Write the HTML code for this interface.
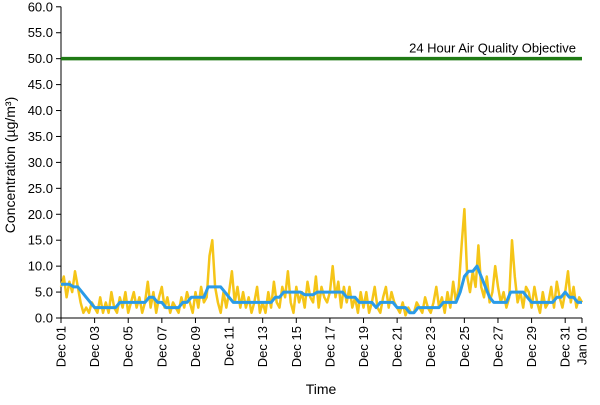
<!DOCTYPE html>
<html><head><meta charset="utf-8"><style>
body{margin:0;background:#fff;font-family:"Liberation Sans",Arial,sans-serif}
svg text{font-family:"Liberation Sans",Arial,sans-serif}
</style></head><body>
<svg id="chart" width="600" height="400" viewBox="0 0 600 400" xmlns="http://www.w3.org/2000/svg">
<g id="yt"></g>
<g id="xt"></g>
<g id="series"></g>
<text transform="translate(15,165) rotate(-90)" text-anchor="middle" font-size="14" fill="#000">Concentration (µg/m³)</text>
<text x="321" y="394" text-anchor="middle" font-size="14" fill="#000">Time</text>
</svg>
<script>
const yTicks=[0,5,10,15,20,25,30,35,40,45,50,55,60];
const xLabels=["Dec 01","Dec 03","Dec 05","Dec 07","Dec 09","Dec 11","Dec 13","Dec 15","Dec 17","Dec 19","Dec 21","Dec 23","Dec 25","Dec 27","Dec 29","Dec 31","Jan 01"];
const xLabelDays=[0,2,4,6,8,10,12,14,16,18,20,22,24,26,28,30,31];
const objective=50;
const objectiveLabel="24 Hour Air Quality Objective";
const hourlyVals=[6,8,4,7,5,9, 6,3,1,2,1,3, 2,1,4,1,3,1, 5,2,1,4,2,5, 1,3,5,2,4,1, 3,7,2,5,1,4, 6,2,4,1,3,2, 1,4,2,5,3,1, 5,2,6,3,4,12, 15,6,3,1,5,2, 5,9,3,6,2,5, 2,4,1,3,6,1, 3,1,5,2,7,3, 2,6,4,9,3,1, 6,3,5,2,7,4, 3,8,2,6,4,3, 5,10,4,7,2,6, 3,6,2,4,1,5, 2,5,1,3,6,2, 1,4,6,2,5,3, 2,1,3,0.5,2,1, 1,3,2,1,4,2, 1,3,6,2,4,1, 5,2,7,3,6,14, 21,8,5,9,6,14, 6,4,8,3,5,10, 6,3,5,2,4,15, 8,3,5,2,6,5, 2,6,3,1,5,2, 3,6,2,7,4,2, 5,9,3,6,2,4, 3];
const meanVals=[6.5,6.5,6.5,6, 6,5,4,3, 2,2,2,2, 2,2,3,3, 3,3,3,3, 3,4,4,3, 3,2,2,2, 2,3,3,4, 4,4,4,6, 6,6,6,5, 4,3,3,3, 3,3,3,3, 3,3,3,4, 4,5,5,5, 5,5,4.5,4.5, 4.5,5,5,5, 5,5,5,5, 4,4,4,3, 3,3,3,2, 3,3,3,3, 2,2,2,1, 1,2,2,2, 2,2,2,3, 3,3,3,5, 8,9,9,10, 8,6,4,3, 3,3,3,5, 5,5,5,4, 3,3,3,3, 3,3,4,4, 5,4,4,3, 3];
const X0=61,X1=582,Y0=318,Y1=6.8,NS="http://www.w3.org/2000/svg";
const xs=d=>X0+(X1-X0)*d/31;
const ys=v=>Y0-(Y0-Y1)*v/60;
function mk(t,a,p){const e=document.createElementNS(NS,t);for(const k in a)e.setAttribute(k,a[k]);p.appendChild(e);return e;}
const yt=document.getElementById('yt'),xt=document.getElementById('xt'),sr=document.getElementById('series');
let ax=mk('line',{x1:X0,x2:X0,y1:Y1,y2:Y0,stroke:'#000','stroke-width':1},yt);


yTicks.forEach(v=>{
 const l=mk('line',{x1:X0-5,x2:X0,y1:ys(v),y2:ys(v),stroke:'#000'},yt);
 
 
 const t=mk('text',{x:X0-8,y:ys(v)+4.5,'text-anchor':'end','font-size':13,fill:'#000'},yt);
 
 
 t.textContent=v.toFixed(1);
});
let bx=mk('line',{x1:X0,x2:X1,y1:Y0,y2:Y0,stroke:'#000'},xt);


xLabelDays.forEach((d,i)=>{
 const x=xs(d);
 const l=mk('line',{x1:x,x2:x,y1:Y0,y2:Y0+5,stroke:'#000'},xt);
 
 
 const t=mk('text',{transform:`translate(${x+4.5},${Y0+8}) rotate(-90)`,'text-anchor':'end','font-size':13,fill:'#000'},xt);
 
 
 t.textContent=xLabels[i];
});
const ob=mk('line',{x1:X0,x2:X1,y1:ys(objective),y2:ys(objective),stroke:'#1f7a14','stroke-width':3.5},sr);


const ot=mk('text',{x:576,y:ys(objective)-6,'text-anchor':'end','font-size':13,fill:'#000'},sr);


ot.textContent=objectiveLabel;
function pts(arr){const n=arr.length-1;return arr.map((v,i)=>xs(31*i/n).toFixed(1)+','+ys(v).toFixed(1)).join(' ');}
const hl=mk('polyline',{points:pts(hourlyVals),fill:'none',stroke:'#f5c518','stroke-width':2.5,'stroke-linejoin':'round'},sr);


const ml=mk('polyline',{points:pts(meanVals),fill:'none',stroke:'#2a9be8','stroke-width':3,'stroke-linejoin':'round'},sr);


</script>
</body></html>
